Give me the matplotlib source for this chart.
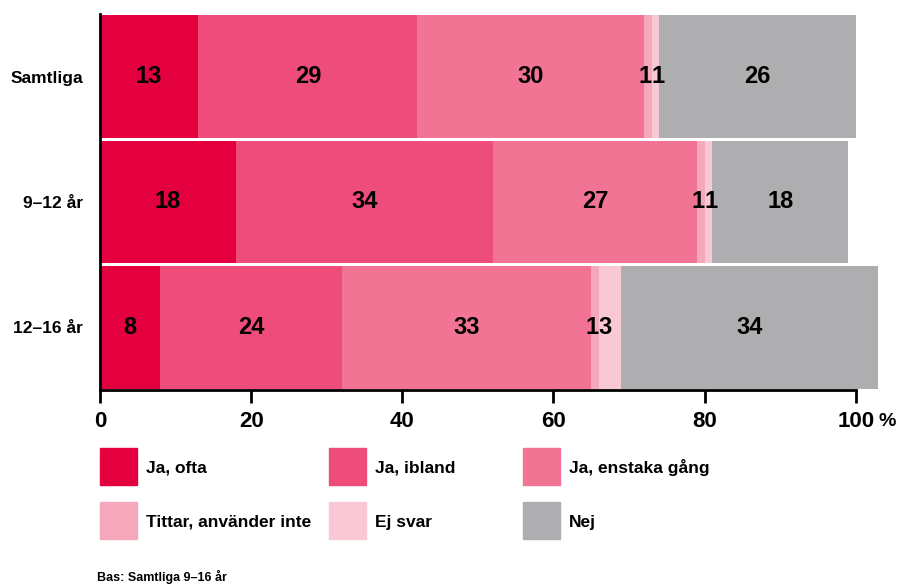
from matplotlib import pyplot as plt
from matplotlib.patches import Rectangle
import numpy as np

categories = ["Samtliga", "9\u201312 \u00e5r", "12\u201316 \u00e5r"]
series_names = ["Ja, ofta", "Ja, ibland", "Ja, enstaka g\u00e5ng",
                "Tittar, anv\u00e4nder inte", "Ej svar", "Nej"]
ja_ofta = [13, 18, 8]
ja_ibland = [29, 34, 24]
ja_enstaka = [30, 27, 33]
tittar = [1, 1, 1]
ej_svar = [1, 1, 3]
nej = [26, 18, 34]
xticks = [0, 20, 40, 60, 80, 100]

colors = ["#E4003F", "#EE4C7A", "#F17495", "#F5A7BC", "#F9C8D5", "#AEAEB1"]

plt.rcParams['font.family'] = ['Liberation Sans', 'DejaVu Sans']

fig = plt.figure(figsize=(8.97, 5.85), dpi=100)
ax = fig.add_axes([100/897, 1 - 390/585, 786/897, 376/585])

series = [ja_ofta, ja_ibland, ja_enstaka, tittar, ej_svar, nej]
y = np.arange(len(categories))
left = np.zeros(len(categories))
for k, (vals, col) in enumerate(zip(series, colors)):
  vals = np.array(vals, dtype=float)
  ax.barh(y, vals, left=left, height=0.98, color=col, edgecolor='none')
  for yi, l, v in zip(y, left, vals):
    # the two thin segments: put their labels side by side at the shared edge
    if k == 3:
      xt, ha = l + v, 'right'
    elif k == 4:
      xt, ha = l, 'left'
    else:
      xt, ha = l + v / 2, 'center'
    ax.text(xt, yi, "%d" % v, ha=ha, va='center',
            fontsize=17, fontweight='bold', color='black')
  left += vals

ax.set_xlim(0, 104)
ax.set_ylim(2.5, -0.5)
ax.set_yticks(y)
ax.set_yticklabels(categories, fontsize=12.5, fontweight='bold')
ax.tick_params(axis='y', length=0, pad=12)
ax.set_xticks(xticks)
ax.set_xticklabels([str(t) for t in xticks], fontsize=16, fontweight='bold')
ax.tick_params(axis='x', length=9, width=2, direction='out', pad=6)
for s in ['top', 'right']:
  ax.spines[s].set_visible(False)
ax.spines['bottom'].set_bounds(0, 100)
ax.spines['bottom'].set_linewidth(2)
ax.spines['left'].set_linewidth(2)
ax.spines['bottom'].set_zorder(5)

fig.text(878/897, 1 - 421/585, "%", fontsize=14, fontweight='bold', va='center', ha='left')

# legend
legend_x = [100, 329, 523]
legend_y = [448, 502]
for i, (name, col) in enumerate(zip(series_names, colors)):
  px = legend_x[i % 3]
  py = legend_y[i // 3]
  fig.patches.append(Rectangle((px/897, 1 - (py + 37)/585), 37/897, 37/585,
                               transform=fig.transFigure, color=col, figure=fig))
  fig.text((px + 46)/897, 1 - (py + 20)/585, name, fontsize=12.5, fontweight='bold',
           va='center', ha='left')

fig.text(97/897, 1 - 577/585, "Bas: Samtliga 9\u201316 \u00e5r", fontsize=9, fontweight='bold',
         va='center', ha='left')

fig.savefig("out.png", dpi=100)
